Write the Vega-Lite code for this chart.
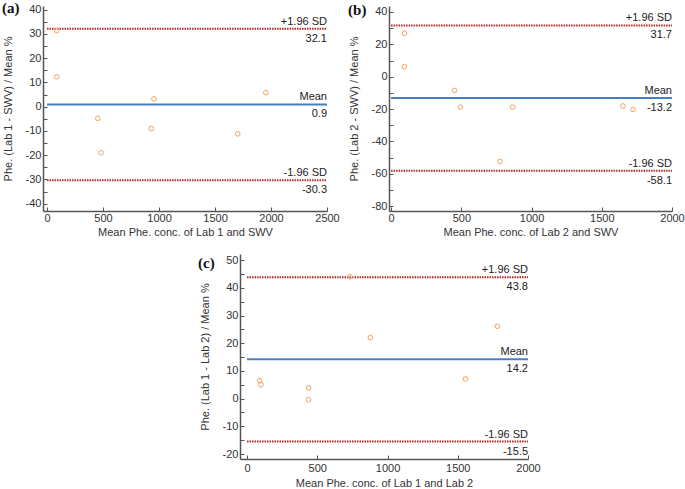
{
  "$schema": "https://vega.github.io/schema/vega-lite/v6.json",
  "padding": {"left": 2, "top": 0, "right": 0, "bottom": 0},
  "config": {
    "font": "Liberation Sans",
    "view": {"stroke": null},
    "axis": {"grid": false, "labelFont": "Liberation Sans", "titleFont": "Liberation Sans", "labelFontSize": 11, "titleFontSize": 11, "titleFontWeight": "normal", "labelColor": "#333", "titleColor": "#333", "domainColor": "#555", "domainWidth": 1.5, "tickColor": "#555", "tickWidth": 1, "labelOverlap": false},
    "axisX": {"tickSize": -4, "labelPadding": 5, "titlePadding": 3, "labelFlush": false},
    "axisY": {"labelPadding": 6, "titlePadding": 12, "tickSize": -4},
    "title": {"font": "Liberation Serif", "fontSize": 15, "fontWeight": "bold", "anchor": "start", "frame": "bounds", "color": "#111", "offset": 0},
    "text": {"font": "Liberation Sans", "fontSize": 11, "color": "#222"}
  },
  "datasets": {
    "a_pts": [{"x": 87, "y": 31.4}, {"x": 87, "y": 12.3}, {"x": 453, "y": -4.8}, {"x": 483, "y": -19.0}, {"x": 955, "y": 3.2}, {"x": 931, "y": -9.0}, {"x": 1703, "y": -11.2}, {"x": 1954, "y": 5.8}],
    "b_pts": [{"x": 95, "y": 26.8}, {"x": 95, "y": 6.2}, {"x": 451, "y": -8.5}, {"x": 493, "y": -18.8}, {"x": 776, "y": -52.4}, {"x": 866, "y": -18.8}, {"x": 1651, "y": -18.1}, {"x": 1722, "y": -20.2}],
    "c_pts": [{"x": 90, "y": 6.5}, {"x": 99, "y": 5.0}, {"x": 438, "y": 3.9}, {"x": 438, "y": -0.4}, {"x": 734, "y": 44.0}, {"x": 878, "y": 22.0}, {"x": 1555, "y": 7.1}, {"x": 1782, "y": 26.1}],
    "a_lines": [{"kind": "sd", "y": 32.1, "label": "+1.96 SD", "val": "32.1"}, {"kind": "mean", "y": 0.9, "label": "Mean", "val": "0.9"}, {"kind": "sd", "y": -30.3, "label": "-1.96 SD", "val": "-30.3"}],
    "b_lines": [{"kind": "sd", "y": 31.7, "label": "+1.96 SD", "val": "31.7"}, {"kind": "mean", "y": -13.2, "label": "Mean", "val": "-13.2"}, {"kind": "sd", "y": -58.1, "label": "-1.96 SD", "val": "-58.1"}],
    "c_lines": [{"kind": "sd", "y": 43.8, "label": "+1.96 SD", "val": "43.8"}, {"kind": "mean", "y": 14.2, "label": "Mean", "val": "14.2"}, {"kind": "sd", "y": -15.5, "label": "-1.96 SD", "val": "-15.5"}]
  },
  "vconcat": [
    {
      "spacing": 8,
      "hconcat": [
        {
          "width": 284, "height": 205,
          "title": {"text": "(a)", "dy": 16},
          "encoding": {
            "y": {"field": "y", "type": "quantitative", "scale": {"domain": [-43, 41.5], "nice": false, "zero": false}, "axis": {"values": [-40, -35, -30, -25, -20, -15, -10, -5, 0, 5, 10, 15, 20, 25, 30, 35, 40], "labelOverlap": false, "labelExpr": "datum.value % 10 === 0 ? '' + datum.value : ''", "title": "Phe. (Lab 1 - SWV) / Mean %"}}
          },
          "layer": [
            {"data": {"name": "a_lines"}, "mark": {"type": "rule", "strokeWidth": 2},
             "encoding": {"x": {"datum": 0, "type": "quantitative", "scale": {"domain": [-36, 2500], "nice": false, "zero": false}, "axis": {"values": [0, 500, 1000, 1500, 2000, 2500], "labelExpr": "'' + datum.value", "title": "Mean Phe. conc. of Lab 1 and SWV"}}, "x2": {"datum": 2500},
                          "color": {"field": "kind", "type": "nominal", "scale": {"domain": ["mean", "sd"], "range": ["#4a7fbf", "#b5272d"]}, "legend": null},
                          "strokeDash": {"field": "kind", "type": "nominal", "scale": {"domain": ["mean", "sd"], "range": [[1, 0], [1.5, 1]]}, "legend": null}}},
            {"data": {"name": "a_lines"}, "mark": {"type": "text", "align": "right", "baseline": "bottom", "dy": -2},
             "encoding": {"x": {"datum": 2500}, "text": {"field": "label"}}},
            {"data": {"name": "a_lines"}, "mark": {"type": "text", "align": "right", "baseline": "top", "dy": 4},
             "encoding": {"x": {"datum": 2500}, "text": {"field": "val"}}},
            {"data": {"name": "a_pts"}, "mark": {"type": "point", "filled": false, "color": "#f4a261", "size": 22, "strokeWidth": 1, "opacity": 1},
             "encoding": {"x": {"field": "x", "type": "quantitative"}}}
          ]
        },
        {
          "width": 283, "height": 205,
          "title": {"text": "(b)", "dy": 16},
          "encoding": {
            "y": {"field": "y", "type": "quantitative", "scale": {"domain": [-83, 43.7], "nice": false, "zero": false}, "axis": {"values": [-80, -70, -60, -50, -40, -30, -20, -10, 0, 10, 20, 30, 40], "labelOverlap": false, "labelExpr": "datum.value % 20 === 0 ? '' + datum.value : ''", "title": "Phe. (Lab 2 - SWV) / Mean %"}}
          },
          "layer": [
            {"data": {"name": "b_lines"}, "mark": {"type": "rule", "strokeWidth": 2},
             "encoding": {"x": {"datum": 0, "type": "quantitative", "scale": {"domain": [-15, 2000], "nice": false, "zero": false}, "axis": {"values": [0, 500, 1000, 1500, 2000], "labelExpr": "'' + datum.value", "title": "Mean Phe. conc. of Lab 2 and SWV"}}, "x2": {"datum": 2000},
                          "color": {"field": "kind", "type": "nominal", "scale": {"domain": ["mean", "sd"], "range": ["#4a7fbf", "#b5272d"]}, "legend": null},
                          "strokeDash": {"field": "kind", "type": "nominal", "scale": {"domain": ["mean", "sd"], "range": [[1, 0], [1.5, 1]]}, "legend": null}}},
            {"data": {"name": "b_lines"}, "mark": {"type": "text", "align": "right", "baseline": "bottom", "dy": -2},
             "encoding": {"x": {"datum": 2000}, "text": {"field": "label"}}},
            {"data": {"name": "b_lines"}, "mark": {"type": "text", "align": "right", "baseline": "top", "dy": 4},
             "encoding": {"x": {"datum": 2000}, "text": {"field": "val"}}},
            {"data": {"name": "b_pts"}, "mark": {"type": "point", "filled": false, "color": "#f4a261", "size": 22, "strokeWidth": 1, "opacity": 1},
             "encoding": {"x": {"field": "x", "type": "quantitative"}}}
          ]
        }
      ]
    },
    {
      "spacing": 0,
      "hconcat": [
        {"width": 155, "height": 10, "data": {"values": []}, "mark": "point", "encoding": {}},
        {
          "width": 288, "height": 205,
          "title": {"text": "(c)", "dy": 21, "dx": -1},
          "encoding": {
            "y": {"field": "y", "type": "quantitative", "scale": {"domain": [-21.8, 52.2], "nice": false, "zero": false}, "axis": {"values": [-20, -15, -10, -5, 0, 5, 10, 15, 20, 25, 30, 35, 40, 45, 50], "labelOverlap": false, "labelExpr": "datum.value % 10 === 0 ? '' + datum.value : ''", "title": "Phe. (Lab 1 - Lab 2) / Mean %"}}
          },
          "layer": [
            {"data": {"name": "c_lines"}, "mark": {"type": "rule", "strokeWidth": 2},
             "encoding": {"x": {"datum": 0, "type": "quantitative", "scale": {"domain": [-50, 2000], "nice": false, "zero": false}, "axis": {"values": [0, 500, 1000, 1500, 2000], "labelExpr": "'' + datum.value", "labelPadding": 7, "titlePadding": 4, "title": "Mean Phe. conc. of Lab 1 and Lab 2"}}, "x2": {"datum": 2000},
                          "color": {"field": "kind", "type": "nominal", "scale": {"domain": ["mean", "sd"], "range": ["#4a7fbf", "#b5272d"]}, "legend": null},
                          "strokeDash": {"field": "kind", "type": "nominal", "scale": {"domain": ["mean", "sd"], "range": [[1, 0], [1.5, 1]]}, "legend": null}}},
            {"data": {"name": "c_lines"}, "mark": {"type": "text", "align": "right", "baseline": "bottom", "dy": -2},
             "encoding": {"x": {"datum": 2000}, "text": {"field": "label"}}},
            {"data": {"name": "c_lines"}, "mark": {"type": "text", "align": "right", "baseline": "top", "dy": 4},
             "encoding": {"x": {"datum": 2000}, "text": {"field": "val"}}},
            {"data": {"name": "c_pts"}, "mark": {"type": "point", "filled": false, "color": "#f4a261", "size": 22, "strokeWidth": 1, "opacity": 1},
             "encoding": {"x": {"field": "x", "type": "quantitative"}}}
          ]
        }
      ]
    }
  ],
  "spacing": 17
}
